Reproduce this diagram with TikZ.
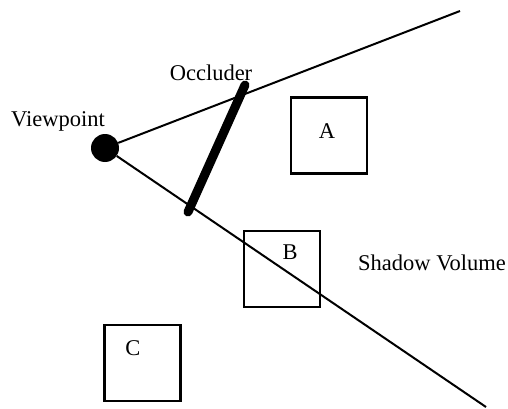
\documentclass[tikz,border=0pt]{standalone}
\usepackage{fontspec}
\setmainfont{Liberation Serif}
\begin{document}
\begin{tikzpicture}[x=1pt,y=-1pt,
  lbl/.style={inner sep=0pt,font=\fontsize{22.5}{26}\selectfont},
  obj/.style={draw,line width=2.4pt,minimum size=76pt,inner sep=0pt},
  ray/.style={line width=2pt}]
\useasboundingbox (0,0) rectangle (508,409);
\node[circle,fill=black,minimum size=28pt,inner sep=0pt] (vp) at (105,148) {};
\coordinate (up) at (460,11);
\coordinate (low) at (486,407);
\draw[ray] (vp) -- (up);
\draw[ray] (vp) -- (low);
\coordinate (occA) at (245,85);
\coordinate (occB) at (188,212);
\draw[line width=9pt,line cap=round] (occA) -- (occB);
\node[obj] (boxA) at (329,135.5) {};
\node[obj] (boxB) at (282,269) {};
\node[obj] (boxC) at (142.5,363) {};
\node[lbl] (la) at (327,131) {A};
\node[lbl] (lb) at (290,252) {B};
\node[lbl] (lc) at (133,348) {C};
\node[lbl] (tv) at (58,121) {Viewpoint};
\node[lbl] (to) at (211,73) {Occluder};
\node[lbl] (ts) at (432,263) {Shadow Volume};
\end{tikzpicture}
\end{document}
